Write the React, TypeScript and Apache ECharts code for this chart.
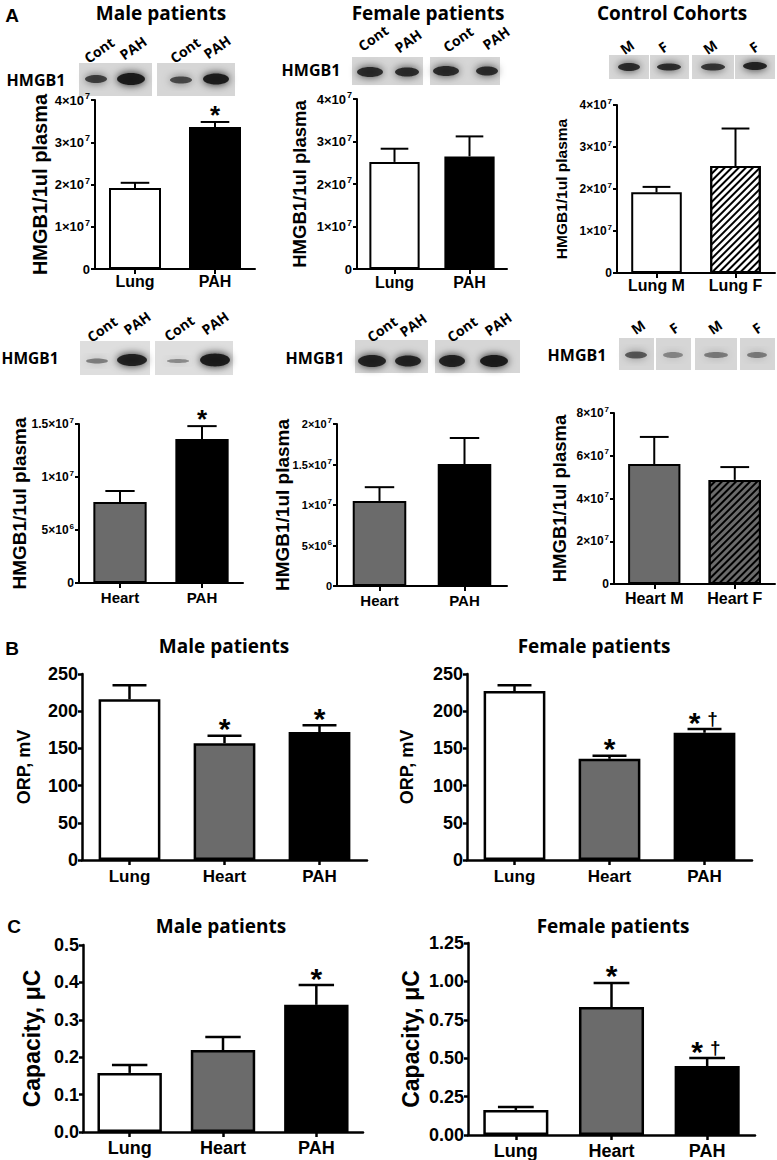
import React, { useEffect, useRef } from 'react';
import * as echarts from 'echarts';

const AX = '"Liberation Sans", Arial, Helvetica, sans-serif';
const HU = '"Open Sans", "Noto Sans", sans-serif';

// ---------- categories ----------
const catsLungPAH = ['Lung', 'PAH'];
const catsHeartPAH = ['Heart', 'PAH'];
const catsLungMF = ['Lung M', 'Lung F'];
const catsHeartMF = ['Heart M', 'Heart F'];
const catsTissue = ['Lung', 'Heart', 'PAH'];

// ---------- Panel A: HMGB1 / 1ul plasma ----------
const a1Mean = [1.92e7, 3.36e7];
const a1Top = [2.04e7, 3.48e7];
const a1Sig = ['', '*'];
const a2Mean = [2.52e7, 2.65e7];
const a2Top = [2.83e7, 3.12e7];
const a2Sig = ['', ''];
const a3Mean = [1.92e7, 2.545e7];
const a3Top = [2.05e7, 3.44e7];
const a3Sig = ['', ''];
const a4Mean = [7.64e6, 1.358e7];
const a4Top = [8.68e6, 1.48e7];
const a4Sig = ['', '*'];
const a5Mean = [1.05e7, 1.506e7];
const a5Top = [1.22e7, 1.827e7];
const a5Sig = ['', ''];
const a6Mean = [5.61e7, 4.87e7];
const a6Top = [6.88e7, 5.47e7];
const a6Sig = ['', ''];

// ---------- Panel B: ORP, mV ----------
const b1Mean = [216, 157, 172];
const b1Top = [235, 167, 181];
const b1Sig = ['', '*', '*'];
const b2Mean = [227, 136, 171];
const b2Top = [235, 140, 176];
const b2Sig = ['', '*', '*†'];

// ---------- Panel C: Capacity, uC ----------
const c1Mean = [0.158, 0.219, 0.34];
const c1Top = [0.179, 0.254, 0.393];
const c1Sig = ['', '', '*'];
const c2Mean = [0.163, 0.833, 0.449];
const c2Top = [0.182, 0.99, 0.501];
const c2Sig = ['', '*', '*†'];

// ---------- tick labels ----------
const ticks4e7 = ['0', '1×10⁷', '2×10⁷', '3×10⁷', '4×10⁷'];
const ticks15e7 = ['0', '5×10⁶', '1×10⁷', '1.5×10⁷'];
const ticks2e7 = ['0', '5×10⁶', '1×10⁷', '1.5×10⁷', '2×10⁷'];
const ticks8e7 = ['0', '2×10⁷', '4×10⁷', '6×10⁷', '8×10⁷'];
const ticksORP = ['0', '50', '100', '150', '200', '250'];
const ticksCapM = ['0.0', '0.1', '0.2', '0.3', '0.4', '0.5'];
const ticksCapF = ['0.00', '0.25', '0.50', '0.75', '1.00', '1.25'];

// ---------- fills ----------
const WHITE = '#ffffff';
const GRAY = '#6b6b6b';
const BLACK = '#000000';
const fillLP = [WHITE, BLACK];
const fillHP = [GRAY, BLACK];
const fillLMF = [WHITE, WHITE];
const fillHMF = [GRAY, GRAY];
const fillTissue = [WHITE, GRAY, BLACK];
const hatchNone2 = [false, false];
const hatchNone3 = [false, false, false];
const hatchSecond = [false, true];

const yNameA = 'HMGB1/1ul plasma';

type Panel = {
  grid: { left: number; top: number; width: number; height: number };
  cats: string[]; means: number[]; tops: number[]; sigs: string[];
  fills: string[]; hatched: boolean[]; ticks: string[];
  max: number; interval: number; yName: string;
  nameSize: number; nameGap: number; tickSize: number; catSize: number; catMargin: number;
  barFrac: number; capFrac: number; lineW: number; sigSize: number; tickMargin: number;
};

const base = { capFrac: 0.55, lineW: 2, tickMargin: 5 };

const panels: Panel[] = [
  { ...base, grid: { left: 95, top: 100, width: 160, height: 169 }, cats: catsLungPAH, means: a1Mean, tops: a1Top, sigs: a1Sig, fills: fillLP, hatched: hatchNone2, ticks: ticks4e7, max: 4e7, interval: 1e7, yName: yNameA, nameSize: 20, nameGap: 45, tickSize: 13, catSize: 16, catMargin: 4, barFrac: 0.65, sigSize: 26 },
  { ...base, grid: { left: 357, top: 99, width: 150, height: 170 }, cats: catsLungPAH, means: a2Mean, tops: a2Top, sigs: a2Sig, fills: fillLP, hatched: hatchNone2, ticks: ticks4e7, max: 4e7, interval: 1e7, yName: yNameA, nameSize: 18.5, nameGap: 48, tickSize: 13, catSize: 16, catMargin: 5, barFrac: 0.67, sigSize: 26 },
  { ...base, grid: { left: 617, top: 105, width: 158, height: 168 }, cats: catsLungMF, means: a3Mean, tops: a3Top, sigs: a3Sig, fills: fillLMF, hatched: hatchSecond, ticks: ticks4e7, max: 4e7, interval: 1e7, yName: yNameA, nameSize: 15.5, nameGap: 48, tickSize: 12, catSize: 16, catMargin: 4, barFrac: 0.64, sigSize: 26 },
  { ...base, grid: { left: 79, top: 424, width: 164, height: 159 }, cats: catsHeartPAH, means: a4Mean, tops: a4Top, sigs: a4Sig, fills: fillHP, hatched: hatchNone2, ticks: ticks15e7, max: 1.5e7, interval: 5e6, yName: yNameA, nameSize: 19, nameGap: 50, tickSize: 12, catSize: 15, catMargin: 7, barFrac: 0.65, sigSize: 26 },
  { ...base, grid: { left: 337, top: 424, width: 170, height: 162 }, cats: catsHeartPAH, means: a5Mean, tops: a5Top, sigs: a5Sig, fills: fillHP, hatched: hatchNone2, ticks: ticks2e7, max: 2e7, interval: 5e6, yName: yNameA, nameSize: 19, nameGap: 45, tickSize: 11, catSize: 15, catMargin: 7, barFrac: 0.63, sigSize: 26 },
  { ...base, grid: { left: 614, top: 413, width: 161, height: 171 }, cats: catsHeartMF, means: a6Mean, tops: a6Top, sigs: a6Sig, fills: fillHMF, hatched: hatchSecond, ticks: ticks8e7, max: 8e7, interval: 2e7, yName: yNameA, nameSize: 18.5, nameGap: 45, tickSize: 12, catSize: 16, catMargin: 6, barFrac: 0.65, sigSize: 26 },
  { ...base, lineW: 2.5, grid: { left: 82, top: 674, width: 285, height: 186 }, cats: catsTissue, means: b1Mean, tops: b1Top, sigs: b1Sig, fills: fillTissue, hatched: hatchNone3, ticks: ticksORP, max: 250, interval: 50, yName: 'ORP, mV', nameSize: 18, nameGap: 49, tickSize: 18, catSize: 17, catMargin: 8, barFrac: 0.65, sigSize: 30, tickMargin: 4 },
  { ...base, lineW: 2.5, grid: { left: 467, top: 674, width: 285, height: 186 }, cats: catsTissue, means: b2Mean, tops: b2Top, sigs: b2Sig, fills: fillTissue, hatched: hatchNone3, ticks: ticksORP, max: 250, interval: 50, yName: 'ORP, mV', nameSize: 18, nameGap: 51, tickSize: 18, catSize: 17, catMargin: 8, barFrac: 0.65, sigSize: 30, tickMargin: 4 },
  { ...base, lineW: 2.5, grid: { left: 83, top: 945, width: 280, height: 187 }, cats: catsTissue, means: c1Mean, tops: c1Top, sigs: c1Sig, fills: fillTissue, hatched: hatchNone3, ticks: ticksCapM, max: 0.5, interval: 0.1, yName: 'Capacity, μC', nameSize: 23, nameGap: 40, tickSize: 18, catSize: 18, catMargin: 7, barFrac: 0.69, sigSize: 30, tickMargin: 4 },
  { ...base, lineW: 2.5, grid: { left: 468, top: 943, width: 287, height: 192 }, cats: catsTissue, means: c2Mean, tops: c2Top, sigs: c2Sig, fills: fillTissue, hatched: hatchNone3, ticks: ticksCapF, max: 1.25, interval: 0.25, yName: 'Capacity, μC', nameSize: 23, nameGap: 46, tickSize: 18, catSize: 18, catMargin: 7, barFrac: 0.68, sigSize: 30, tickMargin: 4 },
];

const SUP: Record<string, string> = { '⁶': '6', '⁷': '7' };

// turns "4×10⁷" into rich text with a raised exponent
const richTick = (s: string) => {
  const last = s.charAt(s.length - 1);
  if (SUP[last]) return `{m|${s.slice(0, -1)}}{e|${SUP[last]}}`;
  return `{m|${s}}`;
};

const hatch = () => ({
  symbol: 'rect',
  symbolSize: 1,
  color: '#000000',
  dashArrayX: [1, 0],
  dashArrayY: [2, 2.8],
  rotation: -Math.PI / 4,
});

// ---------- graphic helpers (decoration: titles, blots) ----------
const txt = (text: string, x: number, y: number, size: number, weight: string | number = 'bold', family = HU, rotDeg = 0) => ({
  type: 'text', x, y, rotation: (rotDeg * Math.PI) / 180, silent: true,
  style: { text, fill: '#000', font: `${weight} ${size}px ${family}`, align: 'center', verticalAlign: 'middle', textAlign: 'center', textVerticalAlign: 'middle' },
});

const box = (x: number, y: number, w: number, h: number, bg = '#d6d6d6') => ({
  type: 'rect', silent: true, shape: { x, y, width: w, height: h }, style: { fill: bg },
});

const band = (cx: number, cy: number, rx: number, ry: number, a: number) => ({
  type: 'ellipse', silent: true, shape: { cx, cy, rx, ry },
  style: { fill: `rgba(25,25,25,${a})`, shadowBlur: 9, shadowColor: `rgba(0,0,0,${a})` },
});

function buildGraphic() {
  const g: any[] = [];
  // panel letters and titles
  g.push(txt('A', 12, 15, 19, 'bold', AX));
  g.push(txt('Male patients', 161, 13, 19, 'bold'));
  g.push(txt('Female patients', 428, 13, 19, 'bold'));
  g.push(txt('Control Cohorts', 672, 13, 19, 'bold'));
  g.push(txt('B', 12, 648, 19, 'bold', AX));
  g.push(txt('Male patients', 224, 646, 19, 'bold'));
  g.push(txt('Female patients', 594, 646, 19, 'bold'));
  g.push(txt('C', 14, 926, 19, 'bold', AX));
  g.push(txt('Male patients', 221, 926, 19, 'bold'));
  g.push(txt('Female patients', 613, 926, 19, 'bold'));

  // HMGB1 labels
  g.push(txt('HMGB1', 36, 80, 16, 'bold'));
  g.push(txt('HMGB1', 311, 70, 16, 'bold'));
  g.push(txt('HMGB1', 30, 358, 15.5, 'bold'));
  g.push(txt('HMGB1', 315, 358, 16, 'bold'));
  g.push(txt('HMGB1', 577, 355, 16, 'bold'));

  // row 1 male blots
  g.push(box(79, 63, 73, 33), box(157, 63, 78, 33));
  g.push(band(96, 79, 11, 4, 0.75), band(131, 79, 14, 6, 0.95), band(181, 80, 11, 3.5, 0.7), band(216, 79, 13, 5.5, 0.95));
  // row 1 female blots
  g.push(box(352, 57, 71, 28), box(430, 57, 70, 28));
  g.push(band(370, 72, 13, 5, 0.85), band(407, 72, 12, 4.5, 0.85), band(446, 71, 13, 5, 0.85), band(487, 71, 11, 4.5, 0.85));
  // row 1 control blots
  g.push(box(609, 55, 40, 24), box(650, 55, 39, 24), box(692, 55, 42, 24), box(735, 55, 40, 24));
  g.push(band(629, 67, 11, 4, 0.85), band(669, 67, 12, 3.5, 0.85), band(713, 67, 12, 3.5, 0.8), band(755, 66, 12, 4, 0.9));
  // row 2 male blots
  g.push(box(80, 341, 70, 34, '#dedede'), box(155, 341, 78, 34, '#dedede'));
  g.push(band(97, 361, 11, 2.5, 0.45), band(132, 360, 15, 6, 0.9), band(178, 361, 11, 2, 0.4), band(215, 360, 15, 6.5, 0.95));
  // row 2 female blots
  g.push(box(355, 340, 73, 33), box(435, 340, 85, 33));
  g.push(band(372, 361, 14, 6, 0.9), band(408, 361, 13, 5.5, 0.9), band(452, 361, 13, 6, 0.9), band(494, 361, 14, 6, 0.95));
  // row 2 control blots
  g.push(box(619, 338, 35, 32), box(656, 338, 35, 32), box(695, 338, 42, 32), box(740, 338, 35, 32));
  g.push(band(636, 355, 11, 3.5, 0.6), band(673, 355, 10, 3, 0.4), band(716, 355, 12, 3, 0.45), band(757, 355, 10, 3, 0.45));

  // lane labels
  const lane = (t: string, x: number, y: number) => txt(t, x, y, 14, 'bold', HU, 35);
  g.push(lane('Cont', 99, 50), lane('PAH', 133, 48), lane('Cont', 185, 50), lane('PAH', 217, 47));
  g.push(lane('Cont', 373, 38), lane('PAH', 408, 41), lane('Cont', 458, 39), lane('PAH', 496, 38));
  g.push(lane('M', 627, 47), lane('F', 663, 47), lane('M', 710, 47), lane('F', 754, 47));
  g.push(lane('Cont', 102, 329), lane('PAH', 137, 323), lane('Cont', 179, 328), lane('PAH', 215, 323));
  g.push(lane('Cont', 382, 329), lane('PAH', 413, 325), lane('Cont', 462, 329), lane('PAH', 498, 324));
  g.push(lane('M', 638, 327), lane('F', 674, 328), lane('M', 715, 327), lane('F', 757, 328));
  return g;
}

function buildOption() {
  const grid: any[] = [];
  const xAxis: any[] = [];
  const yAxis: any[] = [];
  const series: any[] = [];
  panels.forEach((p, i) => {
    grid.push({ ...p.grid, containLabel: false, outerBoundsMode: 'none' });
    const axisLine = { show: true, onZero: false, lineStyle: { color: '#000', width: p.lineW } };
    const tick = { show: true, length: 5, lineStyle: { color: '#000', width: p.lineW } };
    xAxis.push({
      type: 'category', gridIndex: i, data: p.cats, axisLine,
      axisTick: { ...tick, alignWithLabel: true },
      axisLabel: { interval: 0, color: '#000', fontWeight: 'bold', fontFamily: AX, fontSize: p.catSize, margin: p.catMargin },
      splitLine: { show: false },
    });
    const tFont = { color: '#000', fontWeight: 'bold', fontFamily: AX };
    yAxis.push({
      type: 'value', gridIndex: i, min: 0, max: p.max, interval: p.interval,
      axisLine, axisTick: { ...tick, length: 4 }, splitLine: { show: false },
      axisLabel: {
        ...tFont, fontSize: p.tickSize, margin: p.tickMargin,
        formatter: (v: number) => richTick(p.ticks[Math.round(v / p.interval)] ?? ''),
        rich: {
          m: { ...tFont, fontSize: p.tickSize, lineHeight: p.tickSize + 4 },
          e: { ...tFont, fontSize: Math.round(p.tickSize * 0.7), verticalAlign: 'top', lineHeight: p.tickSize + 4, padding: [0, 0, 6, 1] },
        },
      },
      name: p.yName, nameLocation: 'middle', nameGap: p.nameGap, nameMoveOverlap: false,
      nameTextStyle: { color: '#000', fontWeight: 'bold', fontFamily: AX, fontSize: p.nameSize },
    });
    series.push({
      type: 'bar', xAxisIndex: i, yAxisIndex: i, barWidth: `${Math.round(p.barFrac * 100)}%`,
      z: 2, silent: true,
      data: p.means.map((m, k) => ({
        value: m,
        itemStyle: {
          color: p.fills[k], borderColor: '#000', borderWidth: p.lineW,
          ...(p.hatched[k] ? { decal: hatch() } : {}),
        },
      })),
    });
    series.push({
      type: 'custom', xAxisIndex: i, yAxisIndex: i, z: 5, silent: true,
      data: p.means.map((m, k) => [k, m, p.tops[k]]),
      renderItem: (params: any, api: any) => {
        const k = api.value(0);
        const p0 = api.coord([k, api.value(1)]);
        const p1 = api.coord([k, api.value(2)]);
        const bandW = api.size([1, 0])[0];
        const half = (bandW * p.barFrac * p.capFrac) / 2;
        const ls = { stroke: '#000', lineWidth: p.lineW };
        const children: any[] = [
          { type: 'line', shape: { x1: p0[0], y1: p0[1], x2: p1[0], y2: p1[1] }, style: ls },
          { type: 'line', shape: { x1: p1[0] - half, y1: p1[1], x2: p1[0] + half, y2: p1[1] }, style: ls },
        ];
        const s = p.sigs[params.dataIndex];
        if (s) {
          const dag = s.indexOf('†') >= 0;
          children.push({
            type: 'text', x: p1[0] + (dag ? -10 : 0), y: p1[1] - 7,
            style: { text: '*', fill: '#000', font: `bold ${p.sigSize}px ${AX}`, align: 'center', verticalAlign: 'middle', textAlign: 'center', textVerticalAlign: 'middle' },
          });
          if (dag) {
            children.push({
              type: 'text', x: p1[0] + 8, y: p1[1] - 11,
              style: { text: '†', fill: '#000', font: `bold 19px ${AX}`, align: 'center', verticalAlign: 'middle', textAlign: 'center', textVerticalAlign: 'middle' },
            });
          }
        }
        return { type: 'group', children };
      },
    });
  });
  return {
    animation: false,
    backgroundColor: '#ffffff',
    grid, xAxis, yAxis, series,
    graphic: buildGraphic(),
  };
}

export default function App() {
  const ref = useRef<HTMLDivElement>(null);
  useEffect(() => {
    if (!ref.current) return;
    const chart = echarts.init(ref.current, undefined, { renderer: 'svg' });
    chart.setOption(buildOption() as any);
    return () => chart.dispose();
  }, []);
  return <div ref={ref} style={{ position: 'absolute', left: 0, top: 0, width: 777, height: 1160, background: '#fff' }} />;
}
